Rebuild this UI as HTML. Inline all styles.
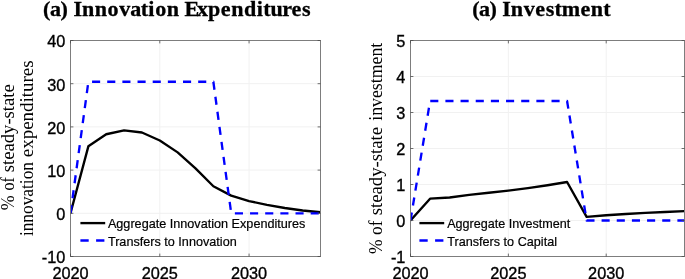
<!DOCTYPE html>
<html lang="en"><head><meta charset="utf-8"><title>Figure</title>
<style>
html,body{margin:0;padding:0;background:#fff;}
body{width:685px;height:279px;overflow:hidden;}
svg{display:block;will-change:transform;}
.tk{font-family:"Liberation Sans",Arial,Helvetica,sans-serif;font-size:16.3px;fill:#000;stroke:#000;stroke-width:0.35px;}
.lg{font-family:"Liberation Sans",Arial,Helvetica,sans-serif;font-size:12.8px;fill:#000;stroke:#000;stroke-width:0.2px;}
.tt{font-family:"Liberation Serif","Times New Roman",serif;font-weight:bold;font-size:21px;fill:#000;stroke:#000;stroke-width:0.3px;}
.yl{font-family:"Liberation Serif","Times New Roman",serif;font-size:18.4px;fill:#000;}
</style></head><body>
<svg width="685" height="279" viewBox="0 0 685 279">
<rect width="685" height="279" fill="#fff"/>
<line x1="159.79" y1="40.5" x2="159.79" y2="256.5" stroke="#f1f1f1" stroke-width="1"/>
<line x1="249.07" y1="40.5" x2="249.07" y2="256.5" stroke="#f1f1f1" stroke-width="1"/>
<line x1="70.5" y1="213.30" x2="320.5" y2="213.30" stroke="#f1f1f1" stroke-width="1"/>
<line x1="70.5" y1="170.10" x2="320.5" y2="170.10" stroke="#f1f1f1" stroke-width="1"/>
<line x1="70.5" y1="126.90" x2="320.5" y2="126.90" stroke="#f1f1f1" stroke-width="1"/>
<line x1="70.5" y1="83.70" x2="320.5" y2="83.70" stroke="#f1f1f1" stroke-width="1"/>
<clipPath id="c1"><rect x="70.5" y="40.5" width="250.5" height="216.0"/></clipPath>
<g clip-path="url(#c1)">
<polyline points="70.50,213.30 88.36,146.34 106.21,134.24 124.07,130.36 141.93,132.52 159.79,140.51 177.64,152.39 195.50,168.37 213.36,186.21 231.21,195.59 249.07,201.07 266.93,204.79 284.79,208.03 302.64,210.49 320.50,212.22" fill="none" stroke="#000" stroke-width="2.35" stroke-linejoin="round"/>
<polyline points="70.50,213.30 88.36,81.76 213.36,81.76 231.21,213.30 320.50,213.30" fill="none" stroke="#0000ff" stroke-width="2.35" stroke-linejoin="round" stroke-dasharray="8.1 7.06"/>
</g>
<rect x="70.5" y="40.5" width="250.0" height="216.0" fill="none" stroke="#7d7d7d" stroke-width="1"/>
<line x1="70.50" y1="256.5" x2="70.50" y2="253.6" stroke="#4a4a4a" stroke-width="0.8"/>
<line x1="70.50" y1="40.5" x2="70.50" y2="43.4" stroke="#4a4a4a" stroke-width="0.8"/>
<line x1="159.79" y1="256.5" x2="159.79" y2="253.6" stroke="#4a4a4a" stroke-width="0.8"/>
<line x1="159.79" y1="40.5" x2="159.79" y2="43.4" stroke="#4a4a4a" stroke-width="0.8"/>
<line x1="249.07" y1="256.5" x2="249.07" y2="253.6" stroke="#4a4a4a" stroke-width="0.8"/>
<line x1="249.07" y1="40.5" x2="249.07" y2="43.4" stroke="#4a4a4a" stroke-width="0.8"/>
<line x1="70.5" y1="256.50" x2="73.4" y2="256.50" stroke="#4a4a4a" stroke-width="0.8"/>
<line x1="320.5" y1="256.50" x2="317.6" y2="256.50" stroke="#4a4a4a" stroke-width="0.8"/>
<line x1="70.5" y1="213.30" x2="73.4" y2="213.30" stroke="#4a4a4a" stroke-width="0.8"/>
<line x1="320.5" y1="213.30" x2="317.6" y2="213.30" stroke="#4a4a4a" stroke-width="0.8"/>
<line x1="70.5" y1="170.10" x2="73.4" y2="170.10" stroke="#4a4a4a" stroke-width="0.8"/>
<line x1="320.5" y1="170.10" x2="317.6" y2="170.10" stroke="#4a4a4a" stroke-width="0.8"/>
<line x1="70.5" y1="126.90" x2="73.4" y2="126.90" stroke="#4a4a4a" stroke-width="0.8"/>
<line x1="320.5" y1="126.90" x2="317.6" y2="126.90" stroke="#4a4a4a" stroke-width="0.8"/>
<line x1="70.5" y1="83.70" x2="73.4" y2="83.70" stroke="#4a4a4a" stroke-width="0.8"/>
<line x1="320.5" y1="83.70" x2="317.6" y2="83.70" stroke="#4a4a4a" stroke-width="0.8"/>
<line x1="70.5" y1="40.50" x2="73.4" y2="40.50" stroke="#4a4a4a" stroke-width="0.8"/>
<line x1="320.5" y1="40.50" x2="317.6" y2="40.50" stroke="#4a4a4a" stroke-width="0.8"/>
<text x="70.50" y="279.2" text-anchor="middle" class="tk">2020</text>
<text x="159.79" y="279.2" text-anchor="middle" class="tk">2025</text>
<text x="249.07" y="279.2" text-anchor="middle" class="tk">2030</text>
<text x="65.4" y="263.30" text-anchor="end" class="tk">-10</text>
<text x="65.4" y="220.10" text-anchor="end" class="tk">0</text>
<text x="65.4" y="176.90" text-anchor="end" class="tk">10</text>
<text x="65.4" y="133.70" text-anchor="end" class="tk">20</text>
<text x="65.4" y="90.50" text-anchor="end" class="tk">30</text>
<text x="65.4" y="47.30" text-anchor="end" class="tk">40</text>
<line x1="80.4" y1="223.1" x2="105.2" y2="223.1" stroke="#000" stroke-width="2.35"/>
<line x1="80.4" y1="240.5" x2="105.2" y2="240.5" stroke="#0000ff" stroke-width="2.35" stroke-dasharray="8.3 7.4"/>
<text x="107.9" y="228.3" class="lg" textLength="197.5" lengthAdjust="spacingAndGlyphs">Aggregate Innovation Expenditures</text>
<text x="107.9" y="245.5" class="lg" textLength="128.8" lengthAdjust="spacingAndGlyphs">Transfers to Innovation</text>
<text transform="scale(1.05 1)" x="41.05 47.58 57.62 65.05 69.94 78.13 90.28 102.47 113.53 124.03 134.06 141.26 147.77 158.79 170.66 175.70 187.64 198.10 210.32 220.19 232.34 244.65 250.69 257.73 268.85 277.69 287.66" y="15.9" class="tt">(a) Innovation Expenditures</text>
<text transform="translate(13.5 210.3) rotate(-90)" class="yl" textLength="14.9" lengthAdjust="spacingAndGlyphs">%</text>
<text transform="translate(13.5 190.6) rotate(-90)" class="yl" textLength="13.3" lengthAdjust="spacingAndGlyphs">of</text>
<text transform="translate(13.5 172.3) rotate(-90)" class="yl" textLength="88.1" lengthAdjust="spacingAndGlyphs">steady-state</text>
<text transform="translate(33.1 236.1) rotate(-90)" class="yl" textLength="74.1" lengthAdjust="spacingAndGlyphs">innovation</text>
<text transform="translate(33.1 157.2) rotate(-90)" class="yl" textLength="96.8" lengthAdjust="spacingAndGlyphs">expenditures</text>
<line x1="508.36" y1="40.5" x2="508.36" y2="256.5" stroke="#f1f1f1" stroke-width="1"/>
<line x1="606.21" y1="40.5" x2="606.21" y2="256.5" stroke="#f1f1f1" stroke-width="1"/>
<line x1="410.5" y1="220.50" x2="684.5" y2="220.50" stroke="#f1f1f1" stroke-width="1"/>
<line x1="410.5" y1="184.50" x2="684.5" y2="184.50" stroke="#f1f1f1" stroke-width="1"/>
<line x1="410.5" y1="148.50" x2="684.5" y2="148.50" stroke="#f1f1f1" stroke-width="1"/>
<line x1="410.5" y1="112.50" x2="684.5" y2="112.50" stroke="#f1f1f1" stroke-width="1"/>
<line x1="410.5" y1="76.50" x2="684.5" y2="76.50" stroke="#f1f1f1" stroke-width="1"/>
<clipPath id="c2"><rect x="410.5" y="40.5" width="274.5" height="216.0"/></clipPath>
<g clip-path="url(#c2)">
<polyline points="410.50,220.50 430.07,198.68 449.64,197.46 469.21,194.94 488.79,192.78 508.36,190.62 527.93,188.10 547.50,185.22 567.07,181.98 586.64,216.90 606.21,215.28 625.79,214.02 645.36,212.94 664.93,212.04 684.50,211.14" fill="none" stroke="#000" stroke-width="2.35" stroke-linejoin="round"/>
<polyline points="410.50,220.50 430.07,100.98 567.07,100.98 586.64,220.50 684.50,220.50" fill="none" stroke="#0000ff" stroke-width="2.35" stroke-linejoin="round" stroke-dasharray="8.1 7.06"/>
</g>
<rect x="410.5" y="40.5" width="274.0" height="216.0" fill="none" stroke="#7d7d7d" stroke-width="1"/>
<line x1="410.50" y1="256.5" x2="410.50" y2="253.6" stroke="#4a4a4a" stroke-width="0.8"/>
<line x1="410.50" y1="40.5" x2="410.50" y2="43.4" stroke="#4a4a4a" stroke-width="0.8"/>
<line x1="508.36" y1="256.5" x2="508.36" y2="253.6" stroke="#4a4a4a" stroke-width="0.8"/>
<line x1="508.36" y1="40.5" x2="508.36" y2="43.4" stroke="#4a4a4a" stroke-width="0.8"/>
<line x1="606.21" y1="256.5" x2="606.21" y2="253.6" stroke="#4a4a4a" stroke-width="0.8"/>
<line x1="606.21" y1="40.5" x2="606.21" y2="43.4" stroke="#4a4a4a" stroke-width="0.8"/>
<line x1="410.5" y1="256.50" x2="413.4" y2="256.50" stroke="#4a4a4a" stroke-width="0.8"/>
<line x1="684.5" y1="256.50" x2="681.6" y2="256.50" stroke="#4a4a4a" stroke-width="0.8"/>
<line x1="410.5" y1="220.50" x2="413.4" y2="220.50" stroke="#4a4a4a" stroke-width="0.8"/>
<line x1="684.5" y1="220.50" x2="681.6" y2="220.50" stroke="#4a4a4a" stroke-width="0.8"/>
<line x1="410.5" y1="184.50" x2="413.4" y2="184.50" stroke="#4a4a4a" stroke-width="0.8"/>
<line x1="684.5" y1="184.50" x2="681.6" y2="184.50" stroke="#4a4a4a" stroke-width="0.8"/>
<line x1="410.5" y1="148.50" x2="413.4" y2="148.50" stroke="#4a4a4a" stroke-width="0.8"/>
<line x1="684.5" y1="148.50" x2="681.6" y2="148.50" stroke="#4a4a4a" stroke-width="0.8"/>
<line x1="410.5" y1="112.50" x2="413.4" y2="112.50" stroke="#4a4a4a" stroke-width="0.8"/>
<line x1="684.5" y1="112.50" x2="681.6" y2="112.50" stroke="#4a4a4a" stroke-width="0.8"/>
<line x1="410.5" y1="76.50" x2="413.4" y2="76.50" stroke="#4a4a4a" stroke-width="0.8"/>
<line x1="684.5" y1="76.50" x2="681.6" y2="76.50" stroke="#4a4a4a" stroke-width="0.8"/>
<line x1="410.5" y1="40.50" x2="413.4" y2="40.50" stroke="#4a4a4a" stroke-width="0.8"/>
<line x1="684.5" y1="40.50" x2="681.6" y2="40.50" stroke="#4a4a4a" stroke-width="0.8"/>
<text x="410.50" y="279.2" text-anchor="middle" class="tk">2020</text>
<text x="508.36" y="279.2" text-anchor="middle" class="tk">2025</text>
<text x="606.21" y="279.2" text-anchor="middle" class="tk">2030</text>
<text x="405.4" y="263.30" text-anchor="end" class="tk">-1</text>
<text x="405.4" y="227.30" text-anchor="end" class="tk">0</text>
<text x="405.4" y="191.30" text-anchor="end" class="tk">1</text>
<text x="405.4" y="155.30" text-anchor="end" class="tk">2</text>
<text x="405.4" y="119.30" text-anchor="end" class="tk">3</text>
<text x="405.4" y="83.30" text-anchor="end" class="tk">4</text>
<text x="405.4" y="47.30" text-anchor="end" class="tk">5</text>
<line x1="419.4" y1="223.1" x2="444.2" y2="223.1" stroke="#000" stroke-width="2.35"/>
<line x1="419.4" y1="240.5" x2="444.2" y2="240.5" stroke="#0000ff" stroke-width="2.35" stroke-dasharray="8.3 7.4"/>
<text x="447.2" y="228.3" class="lg" textLength="123.1" lengthAdjust="spacingAndGlyphs">Aggregate Investment</text>
<text x="447.2" y="245.5" class="lg" textLength="109.8" lengthAdjust="spacingAndGlyphs">Transfers to Capital</text>
<text transform="scale(1.05 1)" x="449.72 456.25 466.28 473.43 478.32 486.51 498.70 509.79 519.75 528.07 534.97 552.86 562.73 574.46" y="15.9" class="tt">(a) Investment</text>
<text transform="translate(381.5 253.9) rotate(-90)" class="yl" textLength="14.6" lengthAdjust="spacingAndGlyphs">%</text>
<text transform="translate(381.5 234.9) rotate(-90)" class="yl" textLength="14.3" lengthAdjust="spacingAndGlyphs">of</text>
<text transform="translate(381.5 215.3) rotate(-90)" class="yl" textLength="88.3" lengthAdjust="spacingAndGlyphs">steady-state</text>
<text transform="translate(381.5 120.8) rotate(-90)" class="yl" textLength="78.1" lengthAdjust="spacingAndGlyphs">investment</text>
</svg>
</body></html>
